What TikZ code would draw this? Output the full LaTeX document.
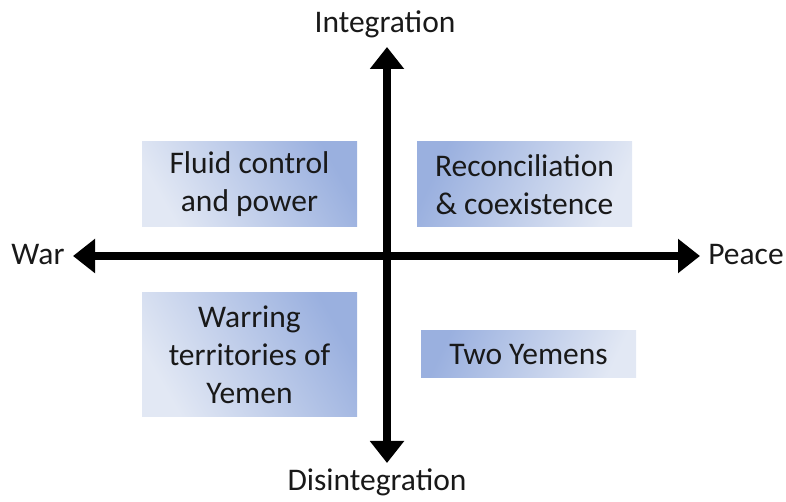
\documentclass[tikz,border=0pt]{standalone}
\usepackage{fontspec}
\setmainfont{Carlito}
\usetikzlibrary{arrows.meta}
\definecolor{boxlight}{HTML}{E2E8F4}
\definecolor{boxdark}{HTML}{9AB0DF}
\begin{document}
\begin{tikzpicture}[x=1pt,y=1pt,
  every node/.style={font=\fontsize{31.5}{38}\selectfont, text=black!90},
  axisline/.style={line width=7.5pt, -{Triangle[length=22pt,width=33pt]}, black},
  qbox/.style={minimum width=215pt, inner sep=0pt, align=center, shading=axis},
  leftbox/.style={qbox, top color=boxdark, bottom color=boxlight, shading angle=-60},
  rightbox/.style={qbox, top color=boxdark, bottom color=boxlight, shading angle=65}]
\useasboundingbox (0,0) rectangle (786,502);
% boxes
\node[leftbox, minimum height=85pt] (fluid) at (249.5,317.5) {Fluid control\\and power};
\node[rightbox, minimum height=85pt] (recon) at (524.5,317.5) {Reconciliation\\\& coexistence};
\node[leftbox, minimum height=124pt] (warring) at (249.5,147) {Warring\\territories of\\Yemen};
\node[rightbox, minimum height=47pt] (two) at (528.5,147.5) {Two Yemens};
% axis end points
\coordinate (center) at (387,246);
\coordinate (wtip) at (73,246);
\coordinate (ptip) at (700,246);
\coordinate (itip) at (387,455);
\coordinate (dtip) at (387,39);
\draw[axisline] (center) -- (wtip);
\draw[axisline] (center) -- (ptip);
\draw[axisline] (center) -- (itip);
\draw[axisline] (center) -- (dtip);
% labels
\node[anchor=base] (war) at (38,237) {War};
\node[anchor=base] (peace) at (746,237) {Peace};
\node[anchor=base] (integ) at (385,469) {Integration};
\node[anchor=base] (disint) at (377,11) {Disintegration};
\end{tikzpicture}
\end{document}
